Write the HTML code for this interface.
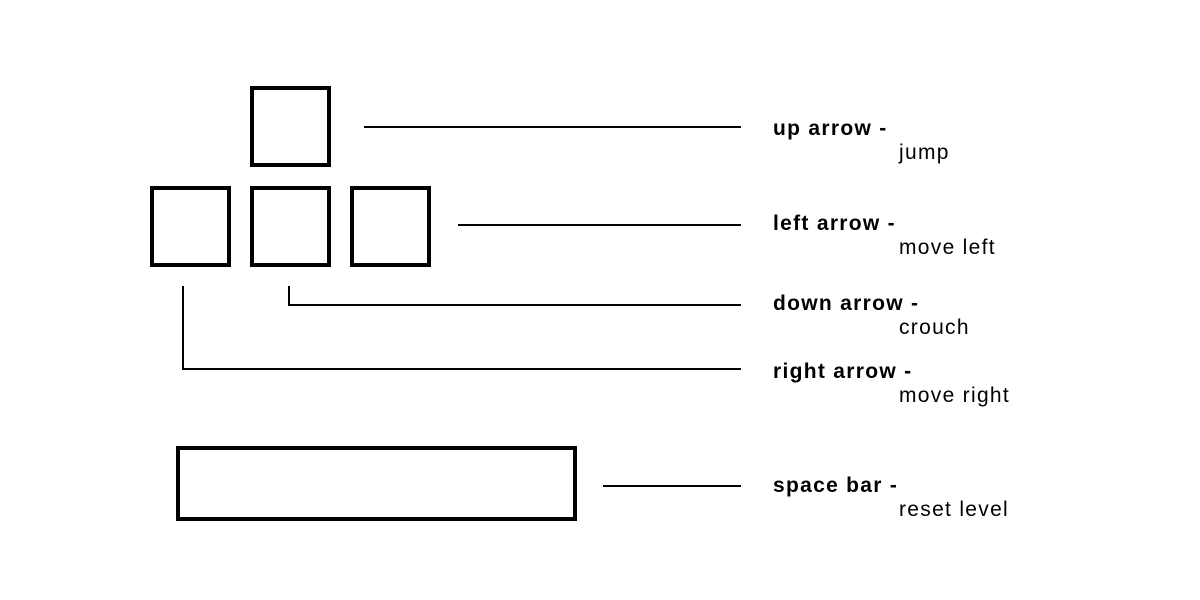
<!DOCTYPE html>
<html><head><meta charset="utf-8"><style>
html,body{margin:0;padding:0;background:#fff;width:1200px;height:600px;overflow:hidden}
text{font-family:"Liberation Sans",Arial,sans-serif;font-size:21px;fill:#000;letter-spacing:1.3px}
.b{font-weight:bold}
</style></head><body>
<svg width="1200" height="600">
<g fill="none" stroke="#000" stroke-width="4">
<rect x="252" y="88" width="77" height="77"/>
<rect x="152" y="188" width="77" height="77"/>
<rect x="252" y="188" width="77" height="77"/>
<rect x="352" y="188" width="77" height="77"/>
<rect x="178" y="448" width="397" height="71"/>
</g>
<g fill="none" stroke="#000" stroke-width="2">
<line x1="364" y1="127" x2="741" y2="127"/>
<line x1="458" y1="225" x2="741" y2="225"/>
<polyline points="289,286 289,305 741,305"/>
<polyline points="183,286 183,369 741,369"/>
<line x1="603" y1="486" x2="741" y2="486"/>
</g>
<text class="b" x="773" y="135">up arrow -</text>
<text x="899" y="159">jump</text>
<text class="b" x="773" y="230">left arrow -</text>
<text x="899" y="254">move left</text>
<text class="b" x="773" y="310">down arrow -</text>
<text x="899" y="334">crouch</text>
<text class="b" x="773" y="378">right arrow -</text>
<text x="899" y="402">move right</text>
<text class="b" x="773" y="492">space bar -</text>
<text x="899" y="516">reset level</text>
</svg>
</body></html>
